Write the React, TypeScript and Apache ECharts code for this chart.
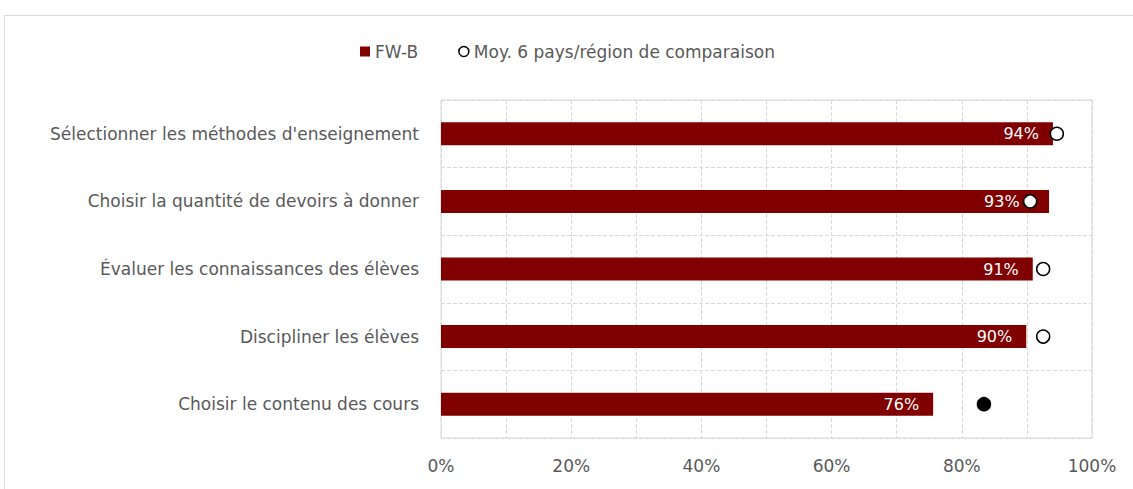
import React, { useEffect, useRef } from "react";
import * as echarts from "echarts";

const categories = [
  "Sélectionner les méthodes d'enseignement",
  "Choisir la quantité de devoirs à donner",
  "Évaluer les connaissances des élèves",
  "Discipliner les élèves",
  "Choisir le contenu des cours",
];
const fwbValues = [0.94, 0.934, 0.909, 0.899, 0.756];
const comparisonValues = [0.946, 0.905, 0.925, 0.925, 0.834];
const comparisonFilled = [false, false, false, false, true];
const xTicks = [0, 0.2, 0.4, 0.6, 0.8, 1.0];

const seriesNames = ["FW-B", "Moy. 6 pays/région de comparaison"];

const FONT = "'DejaVu Sans', 'Open Sans', sans-serif";
const TEXT = "#595959";
const GRID = "#d9d9d9";
const BAR = "#800000";

const PLOT_LEFT = 441;
const PLOT_RIGHT = 1092;
const PLOT_W = PLOT_RIGHT - PLOT_LEFT;
const SYMBOL = 13;
const BASE_LABEL_DIST = 14;

export default function App() {
  const ref = useRef<HTMLDivElement>(null);
  useEffect(() => {
    if (!ref.current) return;
    const chart = echarts.init(ref.current, null, { renderer: "svg" });

    // push the inside label left when the comparison marker sits over it
    const barData = fwbValues.map((v, i) => {
      const c = comparisonValues[i];
      let dist = BASE_LABEL_DIST;
      if (c < v) {
        const need = (v - c) * PLOT_W + SYMBOL / 2 + 4;
        if (need > dist) dist = need;
      }
      return { value: v, label: { distance: dist } };
    });

    chart.setOption({
      animation: false,
      backgroundColor: "#ffffff",
      textStyle: { fontFamily: FONT },
      graphic: [
        {
          type: "rect",
          shape: { x: 4.5, y: 15.5, width: 1200, height: 500 },
          style: { fill: "none", stroke: GRID, lineWidth: 1 },
          silent: true,
        },
      ],
      legend: {
        left: 355,
        top: 38,
        itemWidth: 10,
        itemHeight: 10,
        itemGap: 40,
        textStyle: { color: TEXT, fontSize: 17, fontFamily: FONT },
        data: [
          { name: seriesNames[0], icon: "rect", itemStyle: { color: BAR } },
          {
            name: seriesNames[1],
            icon: "circle",
            itemStyle: { color: "#ffffff", borderColor: "#000000", borderWidth: 1.5 },
          },
        ],
      },
      grid: {
        left: PLOT_LEFT,
        right: 1133 - PLOT_RIGHT,
        top: 100,
        bottom: 51,
        show: true,
        borderColor: GRID,
        borderWidth: 1,
        containLabel: false,
      },
      xAxis: {
        type: "value",
        min: xTicks[0],
        max: xTicks[xTicks.length - 1],
        interval: 0.2,
        axisLine: { show: false },
        axisTick: { show: false },
        minorTick: { show: false, splitNumber: 2 },
        splitLine: { show: true, lineStyle: { color: GRID, type: "dashed", width: 1 } },
        minorSplitLine: { show: true, lineStyle: { color: GRID, type: "dashed", width: 1 } },
        axisLabel: {
          color: TEXT,
          fontSize: 17,
          fontFamily: FONT,
          margin: 19,
          formatter: (v: number) => Math.round(v * 100) + "%",
        },
      },
      yAxis: {
        type: "category",
        data: categories,
        inverse: true,
        axisLine: { show: false },
        axisTick: { show: false },
        splitLine: { show: true, lineStyle: { color: GRID, type: "dashed", width: 1 } },
        axisLabel: { color: TEXT, fontSize: 17, fontFamily: FONT, margin: 22 },
      },
      series: [
        {
          name: seriesNames[0],
          type: "bar",
          data: barData,
          barWidth: 23,
          itemStyle: { color: BAR },
          label: {
            show: true,
            position: "insideRight",
            distance: BASE_LABEL_DIST,
            color: "#ffffff",
            fontSize: 16,
            fontFamily: FONT,
            formatter: (p: any) => Math.round(p.value * 100) + "%",
          },
          z: 2,
        },
        {
          name: seriesNames[1],
          type: "scatter",
          symbol: "circle",
          symbolSize: SYMBOL,
          data: comparisonValues.map((v, i) => ({
            value: [v, categories[i]],
            itemStyle: comparisonFilled[i]
              ? { color: "#000000", borderColor: "#000000", borderWidth: 1.5, opacity: 1 }
              : { color: "#ffffff", borderColor: "#000000", borderWidth: 1.5, opacity: 1 },
          })),
          itemStyle: { opacity: 1 },
          z: 3,
        },
      ],
    });
    return () => chart.dispose();
  }, []);
  return (
    <div
      ref={ref}
      style={{ position: "absolute", left: 0, top: 0, width: 1133, height: 489 }}
    />
  );
}
